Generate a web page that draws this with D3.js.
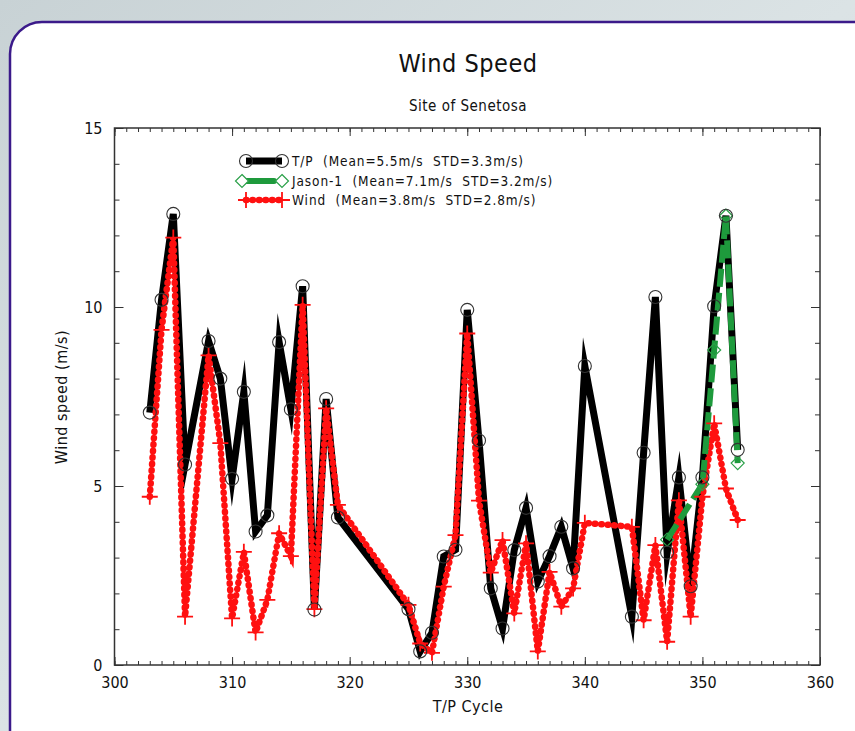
<!DOCTYPE html>
<html>
  <head>
    <title>Wind Speed - Site of Senetosa</title>
    <script src="https://cdn.jsdelivr.net/npm/d3@7"></script>
    <style>
      body { margin: 0; }
      text { font-family: "DejaVu Sans Condensed", "Liberation Sans Narrow", sans-serif; fill: #111; }
    </style>
  </head>
  <body>
    <svg id="svg" width="855" height="731" xmlns="http://www.w3.org/2000/svg"></svg>
    <script>
      // T/P altimeter wind speed per cycle
      let tpCycles = [303, 304, 305, 306, 308, 309, 310, 311, 312, 313, 314, 315, 316, 317, 318, 319,
                      325, 326, 327, 328, 329, 330, 331, 332, 333, 334, 335, 336, 337, 338, 339, 340,
                      344, 345, 346, 347, 348, 349, 350, 351, 352, 353];
      let tpValues = [7.05, 10.2, 12.6, 5.6, 9.05, 8.0, 5.2, 7.63, 3.73, 4.18, 9.02, 7.14, 10.58, 1.55, 7.43, 4.12,
                      1.56, 0.38, 0.9, 3.03, 3.22, 9.92, 6.27, 2.14, 1.02, 3.21, 4.39, 2.33, 3.04, 3.86, 2.7, 8.35,
                      1.35, 5.93, 10.28, 3.14, 5.24, 2.2, 5.24, 10.02, 12.55, 6.01];

      // Jason-1 wind speed
      let jasonCycles = [347, 350, 351, 352, 353];
      let jasonValues = [3.5, 5.05, 8.8, 12.55, 5.64];

      // In situ wind
      let windCycles = tpCycles;
      let windValues = [4.7, 9.36, 11.94, 1.35, 8.65, 6.2, 1.3, 3.16, 0.91, 1.82, 3.68, 3.04, 10.06, 1.56, 7.17, 4.47,
                        1.68, 0.6, 0.34, 2.19, 3.63, 9.26, 4.59, 2.58, 3.49, 1.44, 3.4, 0.38, 2.6, 1.63, 2.14, 3.97,
                        3.86, 1.25, 3.35, 0.65, 4.6, 1.35, 4.7, 6.75, 4.93, 4.05];

      let legendLabels = ["T/P  (Mean=5.5m/s  STD=3.3m/s)",
                          "Jason-1  (Mean=7.1m/s  STD=3.2m/s)",
                          "Wind  (Mean=3.8m/s  STD=2.8m/s)"];

      let svg = d3.select("svg");

      // Background and rounded panel
      let defs = svg.append("defs");
      let grad = defs.append("linearGradient").attr("id", "bg").attr("x1", 0).attr("y1", 0).attr("x2", 1).attr("y2", 1);
      grad.append("stop").attr("offset", "0%").attr("stop-color", "#c8d2d5");
      grad.append("stop").attr("offset", "50%").attr("stop-color", "#dbe3e5");
      grad.append("stop").attr("offset", "100%").attr("stop-color", "#cdd7da");
      svg.append("rect").attr("width", 855).attr("height", 731).attr("fill", "url(#bg)");
      svg.append("rect")
        .attr("x", 10).attr("y", 22).attr("width", 880).attr("height", 745)
        .attr("rx", 32).attr("ry", 32)
        .attr("fill", "white").attr("stroke", "#3b1a8a").attr("stroke-width", 2.5);

      // Scales
      let x = d3.scaleLinear().domain([300, 360]).range([114.5, 820]);
      let y = d3.scaleLinear().domain([0, 15]).range([665, 128]);

      // Axes with inward ticks, mirrored on top and right
      let frame = svg.append("g").attr("class", "frame");
      function addAxis(axisFn, scale, step, len, transform) {
        let lo = scale.domain()[0], hi = scale.domain()[1];
        let ticks = d3.range(lo, hi + 0.001, step);
        let g = frame.append("g").attr("transform", transform)
          .call(axisFn(scale).tickValues(ticks).tickSize(len).tickFormat(""));
        g.select(".domain").remove();
        g.selectAll("line").attr("stroke", "#333").attr("stroke-width", 1);
        return g;
      }
      addAxis(d3.axisBottom, x, 1, -4, "translate(0,665)");
      addAxis(d3.axisBottom, x, 10, -8, "translate(0,665)");
      addAxis(d3.axisTop, x, 1, -4, "translate(0,128)");
      addAxis(d3.axisTop, x, 10, -8, "translate(0,128)");
      addAxis(d3.axisLeft, y, 1, -5, "translate(114.5,0)");
      addAxis(d3.axisLeft, y, 5, -9, "translate(114.5,0)");
      addAxis(d3.axisRight, y, 1, -5, "translate(820,0)");
      addAxis(d3.axisRight, y, 5, -9, "translate(820,0)");

      frame.append("rect")
        .attr("x", x(300)).attr("y", y(15))
        .attr("width", x(360) - x(300)).attr("height", y(0) - y(15))
        .attr("fill", "none").attr("stroke", "#333").attr("stroke-width", 1.5);

      // Tick labels
      let xLabels = frame.append("g").attr("transform", "translate(0,665)")
        .call(d3.axisBottom(x).tickValues(d3.range(300, 361, 10)).tickSize(0).tickPadding(12));
      xLabels.select(".domain").remove();
      xLabels.selectAll("text").style("font-size", "16px").attr("fill", "#111");

      let yLabels = frame.append("g").attr("transform", "translate(114.5,0)")
        .call(d3.axisLeft(y).tickValues([0, 5, 10, 15]).tickSize(0).tickPadding(12));
      yLabels.select(".domain").remove();
      yLabels.selectAll("text").style("font-size", "16px").attr("fill", "#111");

      // Titles
      svg.append("text").attr("x", 468).attr("y", 72).attr("text-anchor", "middle")
        .style("font-size", "25px").style("letter-spacing", "0.5px").text("Wind Speed");
      svg.append("text").attr("x", 468).attr("y", 111).attr("text-anchor", "middle")
        .style("font-size", "15px").style("letter-spacing", "0.5px").text("Site of Senetosa");
      svg.append("text").attr("x", 468).attr("y", 712).attr("text-anchor", "middle")
        .style("font-size", "16px").style("letter-spacing", "0.5px").text("T/P Cycle");
      svg.append("text").attr("transform", "translate(67,397) rotate(-90)").attr("text-anchor", "middle")
        .style("font-size", "16px").style("letter-spacing", "0.5px").text("Wind speed (m/s)");

      // Series data
      let tp = tpCycles.map((c, i) => ({ x: c, y: tpValues[i] }));
      let jason = jasonCycles.map((c, i) => ({ x: c, y: jasonValues[i] }));
      let wind = windCycles.map((c, i) => ({ x: c, y: windValues[i] }));

      let line = d3.line().x((d) => x(d.x)).y((d) => y(d.y));
      let plot = svg.append("g");

      // T/P line
      plot.append("path").attr("d", line(tp))
        .attr("fill", "none").attr("stroke", "black").attr("stroke-width", 7)
        .attr("stroke-linejoin", "miter").attr("stroke-miterlimit", 10);

      // Wind dotted line
      plot.append("path").attr("d", line(wind))
        .attr("fill", "none").attr("stroke", "#ff1010").attr("stroke-width", 6.5)
        .attr("stroke-linecap", "round").attr("stroke-dasharray", "0.5 6");

      // Jason-1 dashed line
      plot.append("path").attr("d", line(jason))
        .attr("fill", "none").attr("stroke", "#1e9a3c").attr("stroke-width", 6)
        .attr("stroke-dasharray", "18 6");

      // Markers
      function drawCircle(g, cx, cy) {
        g.append("circle").attr("cx", cx).attr("cy", cy).attr("r", 6.5)
          .attr("fill", "none").attr("stroke", "#333").attr("stroke-width", 1.1);
      }
      function drawCross(g, cx, cy) {
        g.append("path").attr("d", `M${cx - 8},${cy}H${cx + 8}M${cx},${cy - 8}V${cy + 8}`)
          .attr("stroke", "#ff1010").attr("stroke-width", 1.8).attr("fill", "none");
      }
      function drawDiamond(g, cx, cy, fill) {
        g.append("path").attr("d", `M${cx},${cy - 6.5}L${cx + 6.5},${cy}L${cx},${cy + 6.5}L${cx - 6.5},${cy}Z`)
          .attr("stroke", "#2aa048").attr("stroke-width", 1.2).attr("fill", fill);
      }
      let marks = svg.append("g");
      wind.forEach((d) => drawCross(marks, x(d.x), y(d.y)));
      jason.forEach((d) => drawDiamond(marks, x(d.x), y(d.y), "none"));
      tp.forEach((d) => drawCircle(marks, x(d.x), y(d.y)));

      // Legend
      let legend = svg.append("g");
      let lx1 = 246, lx2 = 282, ly = [161, 181, 200];
      legend.append("line").attr("x1", lx1).attr("x2", lx2).attr("y1", ly[0]).attr("y2", ly[0])
        .attr("stroke", "black").attr("stroke-width", 7);
      drawCircle(legend, lx1, ly[0]);
      drawCircle(legend, lx2, ly[0]);
      legend.append("line").attr("x1", lx1).attr("x2", lx2 - 8).attr("y1", ly[1]).attr("y2", ly[1])
        .attr("stroke", "#1e9a3c").attr("stroke-width", 6).attr("stroke-linecap", "round");
      drawDiamond(legend, lx1 - 4, ly[1], "white");
      drawDiamond(legend, lx2, ly[1], "white");
      legend.append("line").attr("x1", lx1).attr("x2", lx2).attr("y1", ly[2]).attr("y2", ly[2])
        .attr("stroke", "#ff1010").attr("stroke-width", 6.5)
        .attr("stroke-linecap", "round").attr("stroke-dasharray", "0.5 6");
      drawCross(legend, lx1, ly[2]);
      drawCross(legend, lx2, ly[2]);
      legendLabels.forEach((t, i) => {
        legend.append("text").attr("x", 292).attr("y", ly[i] + 5)
          .style("font-size", "13.5px").style("letter-spacing", "0.9px")
          .style("white-space", "pre").text(t);
      });
    </script>
  </body>
</html>
